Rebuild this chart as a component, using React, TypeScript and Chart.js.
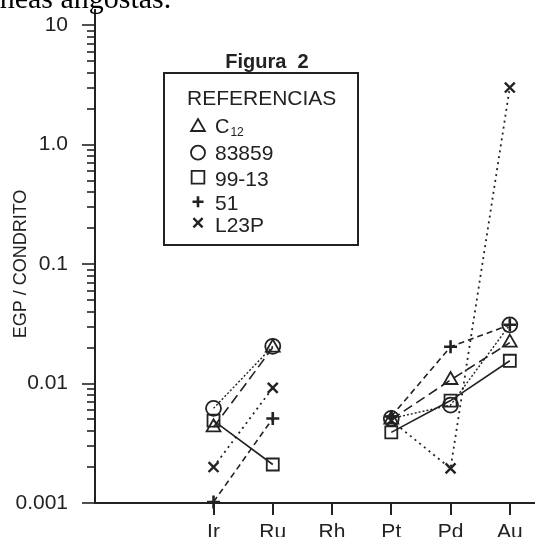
import React, { useEffect, useRef } from 'react';
import { Chart, registerables } from 'chart.js';
import { drawPoint } from 'chart.js/helpers';

Chart.register(...registerables);

// ---- data ----
const CATEGORIES = ['Ir', 'Ru', 'Rh', 'Pt', 'Pd', 'Au'];
const C12 = [0.0043, 0.02, null, 0.005, 0.0107, 0.022];
const S83859 = [0.0062, 0.0205, null, 0.0051, 0.0066, 0.031];
const S9913 = [0.0049, 0.0021, null, 0.0039, 0.0072, 0.0155];
const S51 = [0.00102, 0.0051, null, 0.0053, 0.0203, 0.031];
const L23P = [0.002, 0.0092, null, 0.0049, 0.00195, 3.0];

const Y_MAJOR_TICKS = [0.001, 0.01, 0.1, 1, 10];
const Y_MAJOR_LABELS = ['0.001', '0.01', '0.1', '1.0', '10'];
const Y_MINOR_STEPS = [2, 3, 4, 5, 6, 7, 8, 9];

const TITLE = 'Figura  2';
const Y_TITLE = 'EGP / CONDRITO';
const LEGEND_TITLE = 'REFERENCIAS';
const LEGEND_LABELS = ['C', '83859', '99-13', '51', 'L23P'];
const LEGEND_SUBSCRIPTS = ['12', '', '', '', ''];
const TOP_TEXT = 'líneas angostas.';

const INK = '#222';
const FONT = '"Liberation Sans", Arial, Helvetica, sans-serif';

const Y_ALL_TICKS: number[] = [];
Y_MAJOR_TICKS.forEach((d, i) => {
  Y_ALL_TICKS.push(d);
  if (i < Y_MAJOR_TICKS.length - 1) Y_MINOR_STEPS.forEach((s) => Y_ALL_TICKS.push(d * s));
});

type Series = {
  label: string;
  values: (number | null)[];
  style: string;
  radius: number;
  dash: number[];
  lineWidth: number;
  pointWidth: number;
};

const SERIES: Series[] = [
  { label: 'C12', values: C12, style: 'triangle', radius: 8, dash: [10, 5], lineWidth: 1.6, pointWidth: 1.8 },
  { label: '83859', values: S83859, style: 'circle', radius: 7.5, dash: [2, 2], lineWidth: 1.4, pointWidth: 1.8 },
  { label: '99-13', values: S9913, style: 'rect', radius: 8.5, dash: [], lineWidth: 1.6, pointWidth: 1.8 },
  { label: '51', values: S51, style: 'cross', radius: 6.5, dash: [6, 4], lineWidth: 1.6, pointWidth: 2.6 },
  { label: 'L23P', values: L23P, style: 'crossRot', radius: 7, dash: [2, 4], lineWidth: 1.8, pointWidth: 2.4 },
];

const decorPlugin = {
  id: 'decor',
  afterDraw(chart: any) {
    const { ctx, chartArea, scales } = chart;
    const ys = scales.y;
    const xs = scales.x;
    ctx.save();
    ctx.strokeStyle = INK;
    ctx.fillStyle = INK;

    // y tick marks (major long, minor short)
    ctx.lineWidth = 1.6;
    ys.ticks.forEach((t: any) => {
      const py = Math.round(ys.getPixelForValue(t.value));
      const major = Y_MAJOR_TICKS.indexOf(t.value) >= 0;
      ctx.beginPath();
      ctx.moveTo(chartArea.left - (major ? 13 : 8), py);
      ctx.lineTo(chartArea.left, py);
      ctx.stroke();
    });

    // x tick marks
    ctx.lineWidth = 2;
    xs.ticks.forEach((t: any) => {
      const px = Math.round(xs.getPixelForValue(t.value));
      ctx.beginPath();
      ctx.moveTo(px, chartArea.bottom);
      ctx.lineTo(px, chartArea.bottom + 12);
      ctx.stroke();
    });

    // y axis title
    ctx.save();
    ctx.translate(21, 264);
    ctx.rotate(-Math.PI / 2);
    ctx.font = `18px ${FONT}`;
    ctx.textAlign = 'center';
    ctx.textBaseline = 'middle';
    ctx.fillText(Y_TITLE, 0, 0);
    ctx.restore();

    // figure title
    ctx.font = `bold 20px ${FONT}`;
    ctx.textAlign = 'center';
    ctx.textBaseline = 'alphabetic';
    ctx.fillText(TITLE, 267, 68);

    // legend box
    ctx.lineWidth = 2;
    ctx.strokeRect(164, 73, 194, 172);
    ctx.textAlign = 'left';
    ctx.font = `21px ${FONT}`;
    ctx.fillText(LEGEND_TITLE, 187, 105);

    const markerY = [127, 152.7, 177.3, 201.7, 222.7];
    const baseY = [133, 160, 185.7, 210, 231.7];
    const legendRadius = [8, 7, 9, 5.5, 6.5];
    LEGEND_LABELS.forEach((lab, i) => {
      const s = SERIES[i];
      ctx.save();
      ctx.fillStyle = 'rgba(0,0,0,0)';
      ctx.strokeStyle = INK;
      ctx.lineWidth = s.pointWidth;
      ctx.setLineDash([]);
      drawPoint(ctx, { pointStyle: s.style, rotation: 0, radius: legendRadius[i], borderWidth: s.pointWidth } as any, 198, markerY[i]);
      ctx.restore();
      ctx.font = `${i === 0 ? 20 : 21}px ${FONT}`;
      ctx.fillText(lab, 215, baseY[i]);
      if (LEGEND_SUBSCRIPTS[i]) {
        const w = ctx.measureText(lab).width;
        ctx.font = `12px ${FONT}`;
        ctx.fillText(LEGEND_SUBSCRIPTS[i], 215 + w + 1, baseY[i] + 3);
      }
    });
    ctx.restore();
  },
};

export default function App() {
  const ref = useRef<HTMLCanvasElement | null>(null);

  useEffect(() => {
    if (!ref.current) return;
    const datasets = SERIES.map((s) => ({
      label: s.label,
      data: CATEGORIES.map((_, i) => ({ x: i, y: s.values[i] })),
      borderColor: INK,
      borderWidth: s.lineWidth,
      borderDash: s.dash,
      pointStyle: s.style,
      pointRadius: s.radius,
      pointHoverRadius: s.radius,
      pointBorderColor: INK,
      pointBackgroundColor: 'rgba(0,0,0,0)',
      pointBorderWidth: s.pointWidth,
      fill: false,
      tension: 0,
      spanGaps: false,
      clip: false,
    }));

    const chart = new Chart(ref.current, {
      type: 'line',
      data: { datasets },
      plugins: [decorPlugin],
      options: {
        animation: false,
        responsive: false,
        events: [],
        layout: { padding: { left: 0, top: 8, right: 0, bottom: 0 } },
        plugins: { legend: { display: false }, tooltip: { enabled: false }, title: { display: false } },
        scales: {
          x: {
            type: 'linear',
            min: -2,
            max: 5.42,
            bounds: 'data',
            grid: { display: false },
            border: { display: true, color: INK, width: 2 },
            afterBuildTicks: (scale: any) => {
              scale.ticks = CATEGORIES.map((_, i) => ({ value: i }));
            },
            afterFit: (scale: any) => {
              scale.height = 34;
              scale.paddingLeft = 0;
              scale.paddingRight = 0;
            },
            ticks: {
              autoSkip: false,
              maxRotation: 0,
              padding: 9,
              color: INK,
              font: { family: FONT, size: 21 },
              callback: (v: any) => CATEGORIES[v as number] ?? '',
            },
          },
          y: {
            type: 'logarithmic',
            min: 0.001,
            max: 13.3,
            bounds: 'data',
            grid: { display: false },
            border: { display: true, color: INK, width: 2 },
            afterBuildTicks: (scale: any) => {
              scale.ticks = Y_ALL_TICKS.map((v) => ({ value: v }));
            },
            afterFit: (scale: any) => {
              scale.width = 95;
              scale.paddingTop = 0;
              scale.paddingBottom = 0;
            },
            ticks: {
              autoSkip: false,
              padding: 19,
              color: INK,
              font: { family: FONT, size: 21 },
              callback: (v: any) => {
                const i = Y_MAJOR_TICKS.indexOf(v as number);
                return i >= 0 ? Y_MAJOR_LABELS[i] : '';
              },
            },
          },
        },
      } as any,
    });
    return () => chart.destroy();
  }, []);

  return (
    <div style={{ position: 'absolute', left: 0, top: 0, width: 545, height: 537, overflow: 'hidden', background: '#fff' }}>
      <canvas ref={ref} width={545} height={537} style={{ display: 'block' }} />
      <div
        style={{
          position: 'absolute',
          left: -17,
          top: -17,
          font: '30px "Liberation Serif", "Times New Roman", serif',
          lineHeight: '30px',
          whiteSpace: 'nowrap',
          color: '#000',
        }}
      >
        {TOP_TEXT}
      </div>
    </div>
  );
}
